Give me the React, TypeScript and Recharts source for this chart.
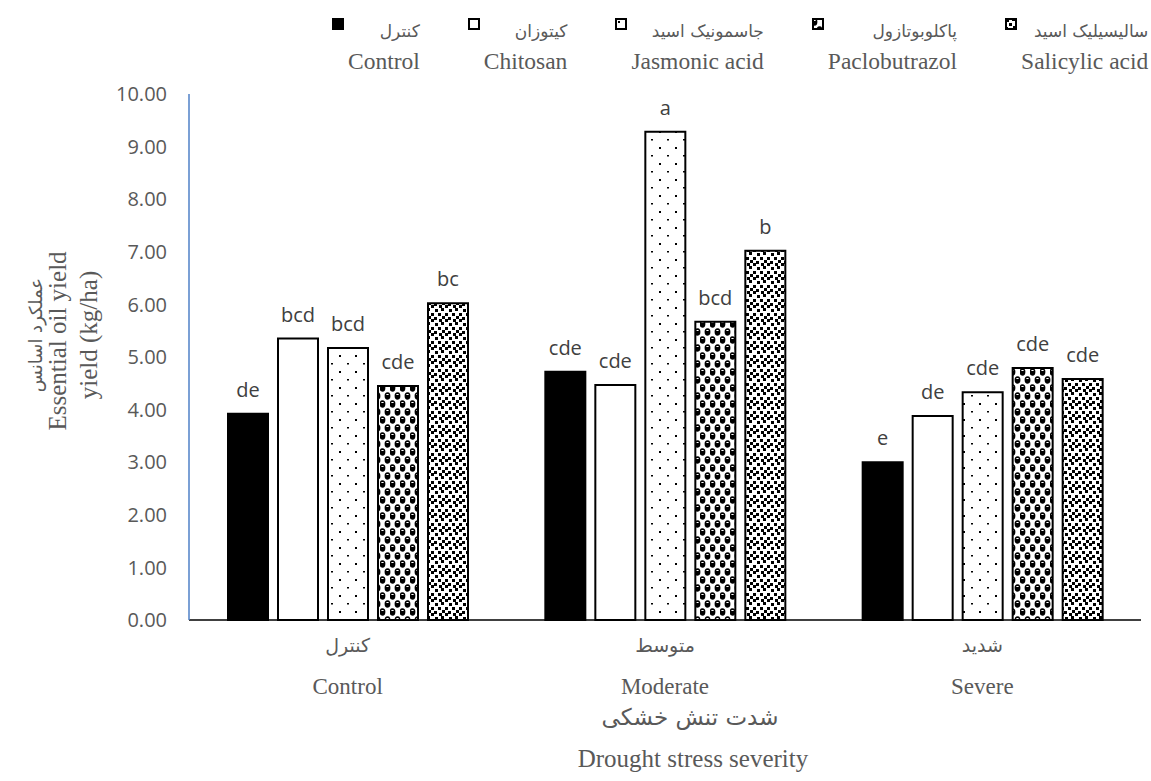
import { BarChart, Bar, XAxis, YAxis, LabelList, Label } from 'recharts'

const categories = ['Control', 'Moderate', 'Severe']
const categoriesFa = ['کنترل', 'متوسط', 'شدید']

const controlVals = [3.92, 4.72, 3.0]
const chitosanVals = [5.35, 4.47, 3.88]
const jasmonicVals = [5.17, 9.28, 4.33]
const pacloVals = [4.45, 5.67, 4.79]
const salicylicVals = [6.02, 7.02, 4.58]

const controlLetters = ['de', 'cde', 'e']
const chitosanLetters = ['bcd', 'cde', 'de']
const jasmonicLetters = ['bcd', 'a', 'cde']
const pacloLetters = ['cde', 'bcd', 'cde']
const salicylicLetters = ['bc', 'b', 'cde']

const yTicks = [0, 1, 2, 3, 4, 5, 6, 7, 8, 9, 10]

const SERIES = [
  { key: 'control', name: 'Control', fa: 'کنترل', fill: '#000000', vals: controlVals, letters: controlLetters },
  { key: 'chitosan', name: 'Chitosan', fa: 'کیتوزان', fill: '#ffffff', vals: chitosanVals, letters: chitosanLetters },
  { key: 'jasmonic', name: 'Jasmonic acid', fa: 'جاسمونیک اسید', fill: 'url(#pJas)', vals: jasmonicVals, letters: jasmonicLetters },
  { key: 'paclo', name: 'Paclobutrazol', fa: 'پاکلوبوتازول', fill: 'url(#pPac)', vals: pacloVals, letters: pacloLetters },
  { key: 'salicylic', name: 'Salicylic acid', fa: 'سالیسیلیک اسید', fill: 'url(#pSal)', vals: salicylicVals, letters: salicylicLetters },
]

const data = categories.map((c, i) => {
  const row: Record<string, string | number> = { name: c, fa: categoriesFa[i] }
  SERIES.forEach((s) => {
    row[s.key] = s.vals[i]
    row[s.key + 'L'] = s.letters[i]
  })
  return row
})

const SERIF = 'Liberation Serif'
const FA = 'DejaVu Sans'
const SANS = 'Open Sans'
const GRAY = '#595959'

// english text in serif, persian text in a font with arabic glyphs
function EnText(props: any) {
  const { children, size, ...rest } = props
  return (
    <text {...rest} fontFamily={SERIF} style={{ fontFamily: SERIF, fontSize: size }} fill={GRAY}>
      {children}
    </text>
  )
}

function FaText(props: any) {
  const { children, size, ...rest } = props
  return (
    <text {...rest} direction="rtl" fontFamily={FA} style={{ fontFamily: FA, fontSize: size }} fill={GRAY}>
      {children}
    </text>
  )
}

function XTick({ x, y, payload }: any) {
  return (
    <g>
      <EnText x={x} y={y + 74} textAnchor="middle" size={23}>
        {payload.value}
      </EnText>
      <FaText x={x} y={y + 32} textAnchor="middle" size={19}>
        {categoriesFa[payload.index]}
      </FaText>
    </g>
  )
}

function XTitle() {
  return (
    <g>
      <EnText x={693} y={767} textAnchor="middle" size={25}>
        Drought stress severity
      </EnText>
      <FaText x={690} y={725} textAnchor="middle" size={23}>
        شدت تنش خشکی
      </FaText>
    </g>
  )
}

function YTitle() {
  const cy = 335
  return (
    <g>
      <EnText x={66} y={cy + 6} transform={`rotate(-90, 66, ${cy + 6})`} textAnchor="middle" size={25}>
        Essential oil yield
      </EnText>
      <EnText x={97} y={cy} transform={`rotate(-90, 97, ${cy})`} textAnchor="middle" size={25}>
        yield (kg/ha)
      </EnText>
      <FaText x={42} y={cy} transform={`rotate(-90, 42, ${cy})`} textAnchor="middle" size={18}>
        عملکرد اسانس
      </FaText>
    </g>
  )
}

function LegendIcon({ fill }: { fill: string }) {
  return (
    <svg width={12} height={12} style={{ marginTop: 18, flex: 'none' }}>
      <rect x={1} y={1} width={10} height={10} fill={fill} stroke="#000" strokeWidth={2} />
    </svg>
  )
}

function TopLegend() {
  return (
    <div style={{ position: 'absolute', left: 332, top: 0, display: 'flex', gap: 48, whiteSpace: 'nowrap' }}>
      {SERIES.map((s) => (
        <div key={s.key} style={{ display: 'flex', alignItems: 'flex-start' }}>
          <LegendIcon fill={s.fill} />
          <div style={{ marginLeft: 4, textAlign: 'right', color: GRAY }}>
            <div style={{ height: 30, marginTop: 15, lineHeight: '32px', fontFamily: FA, fontSize: 17 }}>{s.fa}</div>
            <div style={{ height: 32, lineHeight: '32px', fontFamily: SERIF, fontSize: 23.5 }}>{s.name}</div>
          </div>
        </div>
      ))}
    </div>
  )
}

export default function App() {
  return (
    <div style={{ position: 'absolute', left: 0, top: 0, width: 1151, height: 781, overflow: 'hidden', background: '#fff' }}>
      <svg width={0} height={0} style={{ position: 'absolute' }}>
        <defs>
          <pattern id="pJas" width={16} height={16} patternUnits="userSpaceOnUse">
            <rect width={16} height={16} fill="#fff" />
            <rect x={3} y={3} width={2} height={2} fill="#000" />
            <rect x={11} y={11} width={2} height={1.5} fill="#000" />
          </pattern>
          <pattern id="pPac" width={10} height={16} patternUnits="userSpaceOnUse">
            <rect width={10} height={16} fill="#fff" />
            <ellipse cx={2.5} cy={4} rx={2.9} ry={3.7} fill="#000" />
            <ellipse cx={7.5} cy={12} rx={2.9} ry={3.7} fill="#000" />
            <ellipse cx={-2.5} cy={12} rx={2.9} ry={3.7} fill="#000" />
            <ellipse cx={12.5} cy={12} rx={2.9} ry={3.7} fill="#000" />
            <rect x={1.4} y={2} width={2.2} height={1} fill="#fff" />
            <rect x={6.4} y={10} width={2.2} height={1} fill="#fff" />
          </pattern>
          <pattern id="pSal" width={14} height={14} patternUnits="userSpaceOnUse">
            <rect width={14} height={14} fill="#fff" />
            <rect x={1} y={1} width={3} height={3} fill="#000" />
            <rect x={7} y={0} width={3} height={3} fill="#000" />
            <rect x={11} y={5} width={3} height={3} fill="#000" />
            <rect x={4} y={5} width={3} height={3} fill="#000" />
            <rect x={0} y={9} width={3} height={3} fill="#000" />
            <rect x={8} y={8} width={3} height={3} fill="#000" />
            <rect x={5} y={11} width={3} height={3} fill="#000" />
            <rect x={11} y={11} width={3} height={3} fill="#000" />
          </pattern>
        </defs>
      </svg>
      <TopLegend />
      <BarChart
        width={1151}
        height={781}
        data={data}
        margin={{ top: 94, right: 10, left: 0, bottom: 0 }}
        barCategoryGap={39}
        barGap={10}
        style={{ position: 'absolute', left: 0, top: 0 }}
      >
        <XAxis
          dataKey="name"
          height={161}
          tickLine={false}
          tickSize={0}
          tickMargin={0}
          axisLine={{ stroke: '#000', strokeWidth: 1.5 }}
          tick={<XTick />}
          interval={0}
        >
          <Label content={<XTitle />} />
        </XAxis>
        <YAxis
          width={189}
          domain={[0, 10]}
          ticks={yTicks}
          interval={0}
          tickLine={false}
          tickSize={0}
          tickMargin={22}
          axisLine={{ stroke: '#4f81c7', strokeWidth: 1.5 }}
          tick={{ fill: GRAY, fontSize: 20, fontFamily: SANS }}
          tickFormatter={(v: number) => v.toFixed(2)}
        >
          <Label content={<YTitle />} />
        </YAxis>
        {SERIES.map((s) => (
          <Bar key={s.key} dataKey={s.key} fill={s.fill} stroke="#000" strokeWidth={2} isAnimationActive={false}>
            <LabelList dataKey={s.key + 'L'} position="top" offset={17} fill="#404040" fontSize={20} fontFamily={SANS} />
          </Bar>
        ))}
      </BarChart>
    </div>
  )
}
